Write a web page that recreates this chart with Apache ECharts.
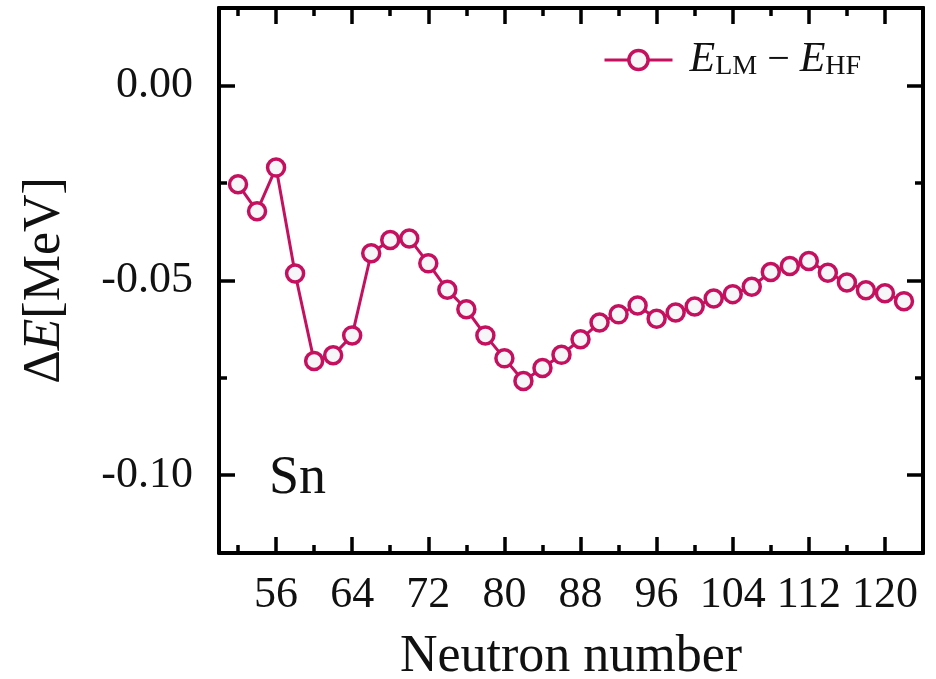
<!DOCTYPE html>
<html>
<head>
<meta charset="utf-8">
<script src="https://cdn.jsdelivr.net/npm/echarts@6/dist/echarts.min.js"></script>
<style>
  html, body { margin: 0; padding: 0; background: #fff; }
  #main { width: 936px; height: 679px; }
</style>
</head>
<body>
<div id="main"></div>
<script>
// Sn isotopes, E_LM - E_HF (MeV) vs neutron number
var neutrons = [52, 54, 56, 58, 60, 62, 64, 66, 68, 70, 72, 74, 76, 78, 80, 82, 84, 86,
                88, 90, 92, 94, 96, 98, 100, 102, 104, 106, 108, 110, 112, 114, 116, 118, 120, 122];
var deltaE = [-0.0253, -0.0322, -0.0210, -0.0482, -0.0707, -0.0692, -0.0641, -0.0430, -0.0396,
              -0.0392, -0.0456, -0.0524, -0.0574, -0.0641, -0.0700, -0.0758, -0.0725, -0.0691,
              -0.0651, -0.0608, -0.0587, -0.0564, -0.0598, -0.0582, -0.0567, -0.0546, -0.0535,
              -0.0516, -0.0478, -0.0463, -0.0450, -0.0480, -0.0505, -0.0525, -0.0533, -0.0553];

var xMajorTicks = [56, 64, 72, 80, 88, 96, 104, 112, 120];
var xMinorTicks = [52, 60, 68, 76, 84, 92, 100, 108, 116];
var yMajorTicks = [0, -0.05, -0.10];
var yMinorTicks = [-0.025, -0.075];

var xMin = 50, xMax = 124;
var yMin = -0.12, yMax = 0.02;

var lineColor = '#c4105e';
var serif = '"Liberation Serif", "DejaVu Serif", serif';

var chart = echarts.init(document.getElementById('main'));

function xAxisDef(position, ticks, len, main) {
    return {
        type: 'value',
        position: position,
        min: xMin,
        max: xMax,
        name: main ? 'Neutron number' : '',
        nameLocation: 'middle',
        nameGap: 78,
        nameTextStyle: { fontFamily: serif, fontSize: 52, color: '#111' },
        axisLine: { show: main || position === 'top', onZero: false,
                    lineStyle: { color: '#000', width: 4 } },
        axisTick: { show: true, inside: true, length: len, customValues: ticks,
                    lineStyle: { color: '#000', width: 3.5 } },
        axisLabel: { show: main, customValues: ticks, margin: 20,
                     fontFamily: serif, fontSize: 44, color: '#111' },
        splitLine: { show: false }
    };
}

function yAxisDef(position, ticks, len, main) {
    return {
        type: 'value',
        position: position,
        min: yMin,
        max: yMax,
        name: main ? '{r|Δ}{i|E}{r|[MeV]}' : '',
        nameLocation: 'middle',
        nameGap: 148,
        nameRotate: 90,
        nameTextStyle: {
            fontFamily: serif, color: '#111',
            rich: {
                r: { fontFamily: serif, fontSize: 52, color: '#111' },
                i: { fontFamily: serif, fontSize: 52, fontStyle: 'italic', color: '#111' }
            }
        },
        axisLine: { show: main || position === 'right', onZero: false,
                    lineStyle: { color: '#000', width: 4 } },
        axisTick: { show: true, inside: true, length: len, customValues: ticks,
                    lineStyle: { color: '#000', width: 3.5 } },
        axisLabel: { show: main, customValues: ticks, margin: 26,
                     fontFamily: serif, fontSize: 44, color: '#111',
                     formatter: function (v) { return v.toFixed(2); } },
        splitLine: { show: false }
    };
}

var option = {
    animation: false,
    backgroundColor: '#fff',
    title: {
        text: 'Sn',
        left: 264,
        top: 447,
        textStyle: { fontFamily: serif, fontSize: 54, fontWeight: 'normal', color: '#111' }
    },
    legend: {
        left: 598,
        top: 34,
        itemWidth: 68,
        itemHeight: 24,
        data: ['diff'],
        lineStyle: { width: 3 },
        itemStyle: { borderWidth: 3.5 },
        formatter: function () { return '{i|E}{s|LM}{m| − }{i|E}{s|HF}'; },
        textStyle: {
            fontFamily: serif, color: '#111',
            padding: [0, 0, 0, 12],
            rich: {
                i: { fontFamily: serif, fontSize: 42, fontStyle: 'italic', color: '#111' },
                m: { fontFamily: serif, fontSize: 40, color: '#111' },
                s: { fontFamily: serif, fontSize: 28, color: '#111', padding: [14, 0, 0, 0] }
            }
        }
    },
    grid: { left: 219, right: 13, top: 8, bottom: 126, outerBoundsMode: 'none' },
    xAxis: [
        xAxisDef('bottom', xMajorTicks, 16, true),
        xAxisDef('bottom', xMinorTicks, 8, false),
        xAxisDef('top', xMajorTicks, 16, false),
        xAxisDef('top', xMinorTicks, 8, false)
    ],
    yAxis: [
        yAxisDef('left', yMajorTicks, 16, true),
        yAxisDef('left', yMinorTicks, 8, false),
        yAxisDef('right', yMajorTicks, 16, false),
        yAxisDef('right', yMinorTicks, 8, false)
    ],
    series: [{
        name: 'diff',
        type: 'line',
        xAxisIndex: 0,
        yAxisIndex: 0,
        data: neutrons.map(function (n, i) { return [n, deltaE[i]]; }),
        symbol: 'circle',
        symbolSize: 17,
        lineStyle: { color: lineColor, width: 3 },
        itemStyle: { color: '#f6f5f8', borderColor: lineColor, borderWidth: 3.5 }
    }]
};

chart.setOption(option);
window.onresize = chart.resize;
</script>
</body>
</html>
